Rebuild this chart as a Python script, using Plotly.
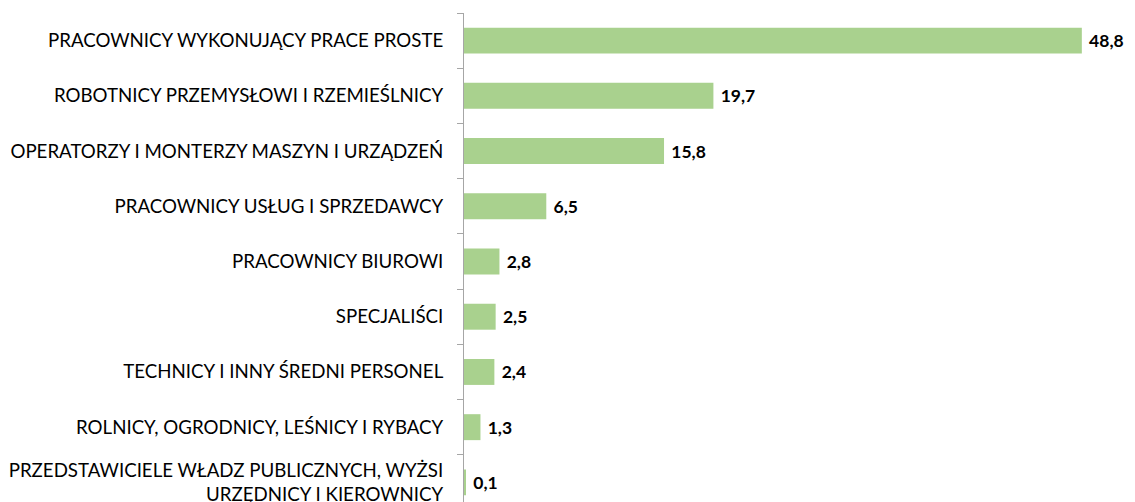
import plotly.graph_objects as go

categories = [
    "PRACOWNICY WYKONUJĄCY PRACE PROSTE",
    "ROBOTNICY PRZEMYSŁOWI I RZEMIEŚLNICY",
    "OPERATORZY I MONTERZY MASZYN I URZĄDZEŃ",
    "PRACOWNICY USŁUG I SPRZEDAWCY",
    "PRACOWNICY BIUROWI",
    "SPECJALIŚCI",
    "TECHNICY I INNY ŚREDNI PERSONEL",
    "ROLNICY, OGRODNICY, LEŚNICY I RYBACY",
    "PRZEDSTAWICIELE WŁADZ PUBLICZNYCH, WYŻSI<br>URZĘDNICY I KIEROWNICY",
]
values = [48.8, 19.7, 15.8, 6.5, 2.8, 2.5, 2.4, 1.3, 0.1]

labels = ["\u00a0" + f"{v:.1f}".replace(".", ",") for v in values]

fig = go.Figure(go.Bar(
    x=values,
    y=categories,
    orientation="h",
    marker=dict(color="#A9D18E", line=dict(width=0)),
    text=labels,
    textposition="outside",
    textfont=dict(family="Lato", size=17.5, color="#000000", weight="bold"),
    cliponaxis=False,
    hoverinfo="skip",
))

# page body has an 8px margin, so the figure is shifted by 8px
fig.update_layout(
    width=1127,
    height=502,
    margin=dict(l=456, r=0, t=5, b=0, autoexpand=False),
    plot_bgcolor="white",
    paper_bgcolor="white",
    bargap=0.53,
    showlegend=False,
    font=dict(family="Lato", size=18.7, color="#000000"),
)

fig.update_xaxes(
    range=[0, 53],
    visible=False,
    automargin=False,
)

fig.update_yaxes(
    type="category",
    autorange=False,
    range=[8.5, -0.5],
    automargin=False,
    showline=True,
    linecolor="#A6A6A6",
    linewidth=1,
    ticks="outside",
    tickson="boundaries",
    ticklen=6,
    tickcolor="#A6A6A6",
    ticklabelstandoff=16,
    showgrid=False,
    zeroline=False,
    tickfont=dict(family="Lato", size=18.7, color="#000000"),
)

fig.write_html("out.html")
